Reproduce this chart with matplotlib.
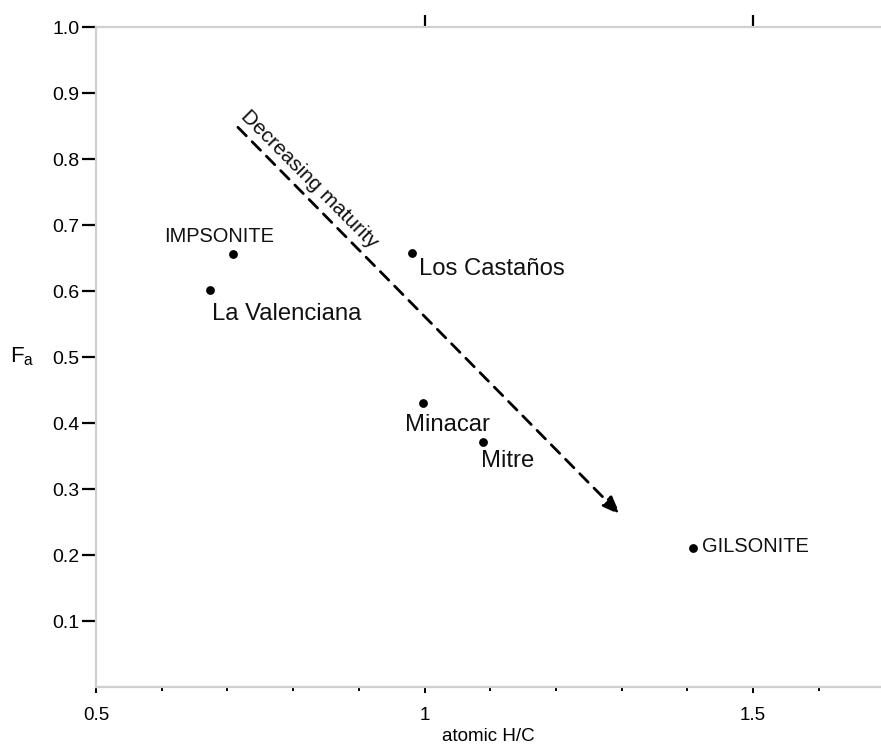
import matplotlib
matplotlib.use("Agg")
import matplotlib.pyplot as plt
from matplotlib.ticker import MultipleLocator, FixedLocator

plt.rcParams['font.family'] = ['Liberation Sans', 'DejaVu Sans']
plt.rcParams['mathtext.fontset'] = 'custom'
plt.rcParams['mathtext.rm'] = 'Liberation Sans'
plt.rcParams['mathtext.it'] = 'Liberation Sans'

# Data
names = ["IMPSONITE", "La Valenciana", "Los Castaños", "Minacar", "Mitre", "GILSONITE"]
hc = [0.709, 0.673, 0.981, 0.998, 1.089, 1.409]
fa = [0.656, 0.601, 0.658, 0.430, 0.371, 0.210]
# label anchors (left, baseline)
lab_x = [0.604, 0.677, 0.992, 0.970, 1.086, 1.422]
lab_y = [0.674, 0.556, 0.624, 0.388, 0.333, 0.204]
lab_size = [14.4, 17.2, 17.2, 17.2, 17.2, 14.4]

arrow_start = (0.716, 0.848)
arrow_end = (1.298, 0.261)
arrow_text = "Decreasing maturity"

x_major = [0.5, 1.0, 1.5]
x_major_labels = ["0.5", "1", "1.5"]
y_ticks = [0.1, 0.2, 0.3, 0.4, 0.5, 0.6, 0.7, 0.8, 0.9, 1.0]

fig = plt.figure(figsize=(8.81, 7.44), dpi=100)
ax = fig.add_axes([96/881, (744-687)/744, 1 - 96/881, 660/744])
ax.set_xlim(0.5, 0.5 + 785/657)
ax.set_ylim(0.0, 1.0)

ax.scatter(hc, fa, s=40, color='black', zorder=3, linewidths=0)
for n, x, y, s in zip(names, lab_x, lab_y, lab_size):
    ax.text(x, y, n, fontsize=s, ha='left', va='baseline', color='#111111')

# dashed arrow
ax.annotate("", xy=arrow_end, xytext=arrow_start,
            arrowprops=dict(arrowstyle='-|>,head_length=1.1,head_width=0.42',
                            linestyle=(0, (4.3, 3.0)), lw=2.0, color='black',
                            shrinkA=0, shrinkB=0))
ax.text(0.8245, 0.769, arrow_text, fontsize=15, rotation=-45.2,
        rotation_mode='anchor', ha='center', va='center', color='#111111')

# spines
for side in ['top', 'left', 'bottom']:
    ax.spines[side].set_color('#cfcfcf')
    ax.spines[side].set_linewidth(1.6)
ax.spines['right'].set_visible(False)

ax.xaxis.set_major_locator(FixedLocator(x_major))
ax.set_xticklabels(x_major_labels)
ax.xaxis.set_minor_locator(MultipleLocator(0.1))
ax.tick_params(axis='x', which='major', direction='out', length=4.5, width=1.4,
               color='black', labelsize=13.5, pad=10, top=False)
ax.tick_params(axis='x', which='minor', direction='out', length=2.6, width=1.4,
               color='black', top=False)

ax.set_yticks(y_ticks)
ax.set_yticklabels([f"{v:.1f}" for v in y_ticks])
ax.tick_params(axis='y', which='major', direction='out', length=10, width=1.6,
               color='black', labelsize=14, pad=2, right=False)

# top ticks
sec = ax.secondary_xaxis('top')
sec.set_xticks([1.0, 1.5])
sec.set_xticklabels([])
sec.tick_params(direction='out', length=9, width=1.6, color='black')
sec.spines['top'].set_visible(False)

ax.set_xlabel("atomic H/C", fontsize=13.5, labelpad=3)
ax.set_ylabel("F$_\\mathrm{a}$", fontsize=16, rotation=0, ha='center', va='center')
ax.yaxis.set_label_coords(-0.094, 0.5)

fig.savefig("out.png", dpi=100)
